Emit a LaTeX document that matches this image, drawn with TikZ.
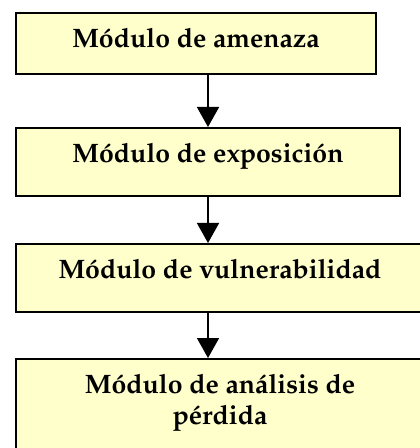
\documentclass[tikz,border=0pt]{standalone}
\usepackage[T1]{fontenc}
\renewcommand{\rmdefault}{ppl}
\usetikzlibrary{arrows.meta}
\definecolor{boxfill}{HTML}{FFFFCC}
\tikzset{
  modbox/.style={draw=black, fill=boxfill, line width=1.2pt, inner sep=0pt,
    anchor=north, align=center, text height=26.25pt,
    font=\fontsize{20}{23.25}\selectfont\bfseries},
  arr/.style={line width=1.2pt, -{Triangle[width=16.5pt,length=15pt]}}
}
\begin{document}
\begin{tikzpicture}[x=0.75pt,y=-0.75pt]
\useasboundingbox (0,0) rectangle (419,448);
\node[modbox, minimum width=270pt, text depth=19.5pt] (b1) at (196,12) {M\'odulo de amenaza};
\node[modbox, minimum width=288pt, text depth=24.75pt] (b2) at (208,127) {M\'odulo de exposici\'on};
\node[modbox, minimum width=306pt, text depth=24.75pt] (b3) at (220,243) {M\'odulo de vulnerabilidad};
\node[modbox, minimum width=306pt, text depth=45pt] (b4) at (220,358)
  {\begin{tabular}[t]{@{}c@{}}M\'odulo de an\'alisis de\\p\'erdida\end{tabular}};
\draw[arr] (b1.south -| b2.north) -- (b2.north);
\draw[arr] (b2.south) -- (b3.north -| b2.south);
\draw[arr] (b3.south -| b2.south) -- (b4.north -| b2.south);
\end{tikzpicture}
\end{document}
